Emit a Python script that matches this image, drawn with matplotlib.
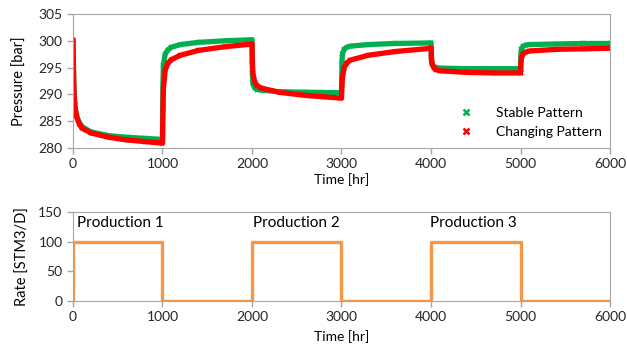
import matplotlib.pyplot as plt
from matplotlib.lines import Line2D

plt.rcParams["font.family"] = ["Lato", "DejaVu Sans"]
plt.rcParams["font.size"] = 10

# Pressure response, stable pattern
t_stable = [0, 5, 10, 20, 40, 70, 100, 200, 400, 600, 800, 1000,
            1000, 1005, 1010, 1030, 1060, 1100, 1200, 1400, 1700, 2000,
            2000, 2005, 2010, 2030, 2060, 2100, 2300, 2600, 3000,
            3000, 3005, 3010, 3030, 3060, 3100, 3300, 3600, 4000,
            4000, 4005, 4010, 4030, 4060, 4100, 4400, 4700, 5000,
            5000, 5005, 5010, 5030, 5060, 5100, 5400, 5700, 6000]
p_stable = [300.2, 295, 291, 288, 286, 284.8, 284, 283, 282.3, 282, 281.8, 281.6,
            281.6, 292, 295.5, 297.5, 298.3, 298.8, 299.3, 299.7, 300, 300.2,
            300.2, 294, 292, 291.2, 290.9, 290.8, 290.5, 290.4, 290.3,
            290.3, 296, 297.5, 298.4, 298.8, 299, 299.3, 299.5, 299.6,
            299.6, 296.5, 295.6, 295.2, 295.0, 294.9, 294.8, 294.8, 294.8,
            294.8, 297.5, 298.5, 299, 299.2, 299.3, 299.4, 299.5, 299.5]

# Pressure response, changing pattern
t_changing = t_stable
p_changing = [300.2, 295, 291, 288, 285.8, 284.5, 283.7, 282.8, 282, 281.5, 281.2, 280.9,
              280.9, 287, 291, 294.5, 295.8, 296.5, 297.3, 298.2, 298.9, 299.4,
              299.4, 296, 294, 292.3, 291.6, 291.2, 290.4, 289.8, 289.3,
              289.3, 291.5, 293, 295.0, 295.9, 296.4, 297.3, 298.0, 298.6,
              298.6, 297, 296, 295, 294.6, 294.4, 294.1, 294.0, 294.0,
              294.0, 295.8, 296.8, 297.6, 297.9, 298.1, 298.4, 298.5, 298.6]

# Rate schedule
t_rate = [0, 0, 1000, 2000, 3000, 4000, 5000, 6000]
rate = [0, 100, 0, 100, 0, 100, 0, 0]

prod_labels = ["Production 1", "Production 2", "Production 3"]
prod_x = [40, 2010, 3990]
prod_y = 131

GREEN = "#00B050"
RED = "#FF0000"
ORANGE = "#F79646"
SPINE = "#A6A6A6"

fig = plt.figure(figsize=(6.27, 3.55), dpi=100)
ax1 = fig.add_axes([0.1164, 0.5831, 0.8565, 0.3775])
ax2 = fig.add_axes([0.1164, 0.1521, 0.8565, 0.2507])

ax1.plot(t_stable, p_stable, color=GREEN, lw=3.8, marker="x", ms=3.5, mew=1.2,
         solid_joinstyle="round", solid_capstyle="round")
ax1.plot(t_changing, p_changing, color=RED, lw=3.8, marker="x", ms=3.5, mew=1.2,
         solid_joinstyle="round", solid_capstyle="round")
ax1.set_xlim(0, 6000)
ax1.set_ylim(280, 305)
ax1.set_yticks(range(280, 306, 5))
ax1.set_xticks(range(0, 6001, 1000))
ax1.set_xlabel("Time [hr]", labelpad=2)
ax1.set_ylabel("Pressure [bar]", labelpad=8, fontsize=10.5)

handles = [Line2D([], [], color=GREEN, marker="x", ls="none", ms=5, mew=1.8),
           Line2D([], [], color=RED, marker="x", ls="none", ms=5, mew=1.8)]
ax1.legend(handles, ["Stable Pattern", "Changing Pattern"], frameon=False,
           loc="upper left", bbox_to_anchor=(0.695, 0.35), handletextpad=1.2,
           labelspacing=0.55, borderaxespad=0)

ax2.step(t_rate, rate, where="post", color=ORANGE, lw=2.4)
ax2.set_xlim(0, 6000)
ax2.set_ylim(0, 150)
ax2.set_yticks([0, 50, 100, 150])
ax2.set_xticks(range(0, 6001, 1000))
ax2.set_xlabel("Time [hr]", labelpad=5)
ax2.set_ylabel("Rate [STM3/D]", labelpad=6, fontsize=10.5)
for lab, x in zip(prod_labels, prod_x):
    ax2.text(x, prod_y, lab, fontsize=11, ha="left", va="center")

for ax in (ax1, ax2):
    for s in ax.spines.values():
        s.set_color(SPINE)
    ax.tick_params(colors=SPINE, labelcolor="#262626", length=4, width=1)

fig.savefig("out.png", dpi=100)
